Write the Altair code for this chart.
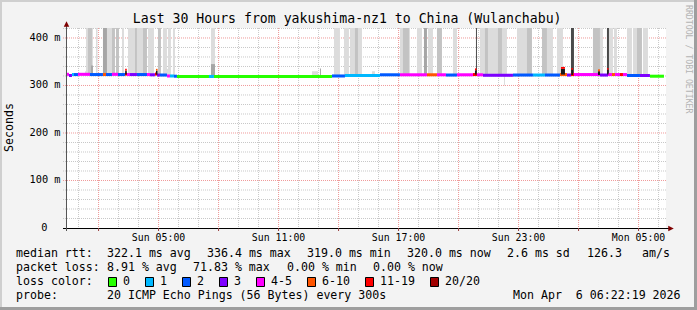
import altair as alt
import pandas as pd

# ---------------- data ----------------
# time axis: hours since Sun 00:00 (window = Sun 00:22:19 .. Mon 06:22:19)
START_H = 22 / 60 + 19 / 3600
END_H = START_H + 30.0
Y_MAX = 421.0  # ms ("m" = milli-seconds)

# median rtt segments (edges in hours, value in ms, loss class index)
med_edges = [0.37, 0.52, 0.67, 0.77, 0.97, 1.57, 2.22, 2.37, 2.67, 2.97,
             3.32, 3.42, 3.57, 3.92, 4.42, 4.57, 4.82, 4.92, 5.07, 5.42,
             5.57, 5.77, 5.92, 7.52, 7.77, 13.67, 14.32, 16.07, 17.07, 18.42,
             18.92, 19.37, 19.92, 20.72, 20.92, 21.22, 22.72, 23.72, 24.32, 25.07,
             25.42, 25.62, 25.77, 27.07, 27.47, 27.67, 27.82, 28.07, 28.22, 28.42,
             29.07, 29.57, 30.27]
med_ms = [323.5, 321, 323, 323, 323.5, 323, 323, 323, 323.5, 323,
          324, 323, 323, 323, 323, 322.5, 324, 322, 322, 320,
          320, 319.5, 319, 319, 319, 320, 321, 322.5, 322.5, 322.5,
          322.5, 322, 322.5, 323, 322.5, 321.5, 322, 322, 322, 323,
          322, 323, 323, 322, 323, 323, 323, 323, 323, 321,
          321, 319.5]
med_loss = [4, 3, 1, 2, 4, 2, 5, 2, 4, 2,
            6, 4, 3, 2, 4, 3, 6, 3, 2, 4,
            1, 2, 0, 1, 0, 2, 1, 2, 4, 5,
            4, 2, 4, 6, 4, 3, 2, 1, 2, 5,
            3, 6, 4, 3, 4, 5, 4, 6, 4, 2,
            3, 0]

# smoke (ping spread) bars: start/end hours, upper ms, shade level
SMOKE_BASE_MS = 321
smoke_h0 = [1.37, 1.47, 1.87, 2.22, 2.42, 2.67, 2.87, 3.17, 3.47, 3.82,
            3.92, 4.22, 4.47, 4.97, 5.22, 5.47, 5.72, 7.62, 13.77, 14.27,
            14.57, 14.82, 17.07, 17.22, 17.92, 18.27, 18.47, 18.92, 19.72, 20.87,
            21.07, 21.32, 21.97, 22.92, 23.42, 24.17, 24.42, 24.92, 25.62, 26.72,
            27.07, 27.42, 27.52, 27.77, 28.42, 28.72, 28.92, 29.22,
            1.32, 1.62, 5.32, 7.62, 12.67, 13.07, 15.67, 22.27]
smoke_h1 = [1.72, 1.67, 1.95, 2.42, 2.67, 2.82, 3.02, 3.27, 3.82, 3.92,
            4.22, 4.42, 4.77, 5.12, 5.42, 5.62, 5.82, 7.82, 14.07, 14.52,
            15.17, 14.97, 17.57, 17.52, 18.17, 18.42, 18.72, 19.17, 19.92, 20.92,
            22.42, 21.47, 22.17, 23.57, 23.67, 24.42, 24.72, 25.22, 25.77, 27.07,
            27.22, 27.52, 27.72, 27.92, 28.67, 28.92, 29.17, 29.47,
            1.42, 1.72, 5.57, 7.82, 12.97, 13.12, 15.82, 22.32]
smoke_hi = [421, 421, 421, 421, 421, 421, 421, 421, 421, 421,
            421, 421, 421, 421, 421, 421, 421, 421, 421, 421,
            421, 421, 421, 421, 421, 421, 421, 421, 421, 421,
            421, 421, 421, 421, 421, 421, 421, 421, 421, 421,
            421, 421, 421, 421, 421, 421, 421, 421,
            330, 342, 335, 345, 330, 336, 330, 300]
smoke_shade = [1, 2, 1, 3, 1, 2, 2, 1, 1, 2,
               1, 2, 1, 2, 1, 1, 1, 1, 1, 1,
               1, 2, 1, 2, 1, 3, 1, 2, 1, 4,
               1, 2, 2, 1, 2, 2, 1, 1, 4, 2,
               1, 4, 1, 1, 1, 1, 2, 1,
               1, 3, 1, 3, 1, 3, 1, 1]

# high-loss spikes
spike_h0 = [3.33, 4.87, 20.82, 25.12, 25.64, 26.97, 27.43]
spike_h1 = [3.41, 4.95, 20.90, 25.32, 25.72, 27.07, 27.50]
spike_lo = [323, 323, 323, 323, 322, 322, 323]
spike_top = [335, 335, 336, 339, 337, 334, 337]
spike_loss = [6, 5, 6, 6, 6, 5, 6]

# axes
x_tick_h = [5, 11, 17, 23, 29]
x_tick_label = ["Sun 05:00", "Sun 11:00", "Sun 17:00", "Sun 23:00", "Mon 05:00"]
y_tick_ms = [0, 100, 200, 300, 400]
y_tick_label = ["0", "100 m", "200 m", "300 m", "400 m"]
grid_minor_h = [h for h in range(1, 31)]
grid_major_h = [2, 5, 8, 11, 14, 17, 20, 23, 26, 29]
grid_minor_ms = [v for v in range(20, 421, 20) if v % 100]
grid_major_ms = [100, 200, 300, 400]

# legend
loss_labels = ["0", "1", "2", "3", "4-5", "6-10", "11-19", "20/20"]
loss_colors = ["#26ff00", "#00b8ff", "#0059ff", "#7e00ff", "#ff00ff", "#ff5500", "#ff0000", "#a10000"]
stat_rtt = ["median rtt:", "322.1 ms avg", "336.4 ms max", "319.0 ms min",
            "320.0 ms now", "2.6 ms sd", "126.3", "am/s"]
stat_loss = ["packet loss:", "8.91 % avg", "71.83 % max", "0.00 % min", "0.00 % now"]
probe_txt = ["probe:", "20 ICMP Echo Pings (56 Bytes) every 300s", "Mon Apr\u00a0 6 06:22:19 2026"]
title_txt = "Last 30 Hours from yakushima-nz1 to China (Wulanchabu)"

# ---------------- layout (pixels, absolute in the 697x310 picture) ----------------
W, H = 600, 200
PAD_L, PAD_T = 66, 28
MONO = "DejaVu Sans Mono"
LEG_FS = 11.6
row_y = [254.2, 268.0, 282.0, 296.3]
stat_rtt_x = [16, 107, 207, 307, 407, 507, 587, 642]
stat_loss_x = [16, 107, 193, 287, 373]
probe_x = [16, 107, 513]
box_x = [108, 145, 182, 219, 256, 307, 365, 430]

shade_colors = ["#dcdcdc", "#c3c3c3", "#a6a6a6", "#4a4a4a"]

xs = alt.Scale(domain=[START_H, END_H], nice=False, zero=False)
ys = alt.Scale(domain=[0, Y_MAX], nice=False, zero=False)
one = pd.DataFrame({"k": [0]})


def xq(f):
    return alt.X(f, type="quantitative", scale=xs, axis=None, title=None)


def yq(f):
    return alt.Y(f, type="quantitative", scale=ys, axis=None, title=None)


def prect(x0, y0, x1, y1, color):
    return alt.Chart(one).mark_rect(color=color, strokeWidth=0).encode(
        x=alt.value(x0 - PAD_L), x2=alt.value(x1 - PAD_L),
        y=alt.value(y0 - PAD_T), y2=alt.value(y1 - PAD_T))


def ptext(s, x, y, size=LEG_FS, align="left", angle=0, color="#000000"):
    return alt.Chart(one).mark_text(
        text=s, align=align, baseline="middle", fontSize=size, font=MONO,
        color=color, angle=angle).encode(x=alt.value(x - PAD_L), y=alt.value(y - PAD_T))


layers = []

# frame of the picture
layers += [prect(0, 0, 697, 2, "#cfcfcf"), prect(0, 0, 2, 310, "#cfcfcf"),
           prect(694, 0, 697, 310, "#9e9e9e"), prect(0, 307, 697, 310, "#9e9e9e")]

# grid
def vgrid(vals, color):
    return alt.Chart(pd.DataFrame({"h": vals})).mark_rule(
        color=color, strokeDash=[1, 1], strokeWidth=1).encode(
        x=xq("h"), y=alt.value(0), y2=alt.value(H))


def hgrid(vals, color):
    return alt.Chart(pd.DataFrame({"v": vals})).mark_rule(
        color=color, strokeDash=[1, 1], strokeWidth=1).encode(
        y=yq("v"), x=alt.value(-3), x2=alt.value(W))


layers += [vgrid(grid_minor_h, "#c8c8c8"), hgrid(grid_minor_ms, "#c8c8c8"),
           vgrid(grid_major_h, "#f09a9a"), hgrid(grid_major_ms, "#f09a9a")]

# smoke
smoke_df = pd.DataFrame({"h0": smoke_h0, "h1": smoke_h1, "hi": smoke_hi,
                         "shade": smoke_shade})
smoke_df["lo"] = SMOKE_BASE_MS
smoke_df = smoke_df.sort_values("shade", kind="stable")
layers.append(alt.Chart(smoke_df).mark_rect(strokeWidth=0).encode(
    x=xq("h0"), x2="h1", y=yq("lo"), y2="hi",
    color=alt.Color("shade:O", scale=alt.Scale(domain=[1, 2, 3, 4], range=shade_colors), legend=None)))

# median line coloured by loss
med_df = pd.DataFrame({"h0": med_edges[:-1], "h1": med_edges[1:], "ms": med_ms,
                       "loss": [loss_labels[i] for i in med_loss]})
loss_scale = alt.Scale(domain=loss_labels, range=loss_colors)
layers.append(alt.Chart(med_df).mark_rect(strokeWidth=0).transform_calculate(
    lo="datum.ms - 3.2", hi="datum.ms + 3.2").encode(
    x=xq("h0"), x2="h1", y=yq("lo"), y2="hi",
    color=alt.Color("loss:N", scale=loss_scale, legend=None)))

# spikes
sp_df = pd.DataFrame({"h0": spike_h0, "h1": spike_h1, "lo": spike_lo, "top": spike_top,
                      "loss": [loss_labels[i] for i in spike_loss]})
layers.append(alt.Chart(sp_df).mark_rect(color="#1a1a1a", strokeWidth=0).transform_calculate(
    cap="datum.top - 4").encode(x=xq("h0"), x2="h1", y=yq("lo"), y2="cap"))
layers.append(alt.Chart(sp_df).mark_rect(strokeWidth=0).transform_calculate(
    cap="datum.top - 4").encode(x=xq("h0"), x2="h1", y=yq("cap"), y2="top",
                                color=alt.Color("loss:N", scale=loss_scale, legend=None)))

# axes lines, ticks, arrows
layers.append(alt.Chart(one).mark_rule(color="#000000", strokeWidth=1).encode(
    x=alt.value(-3), x2=alt.value(W + 3), y=alt.value(H + 0.5)))
layers.append(alt.Chart(one).mark_rule(color="#555555", strokeWidth=1).encode(
    x=alt.value(0.5), y=alt.value(H + 3), y2=alt.value(-5)))
layers.append(alt.Chart(pd.DataFrame({"h": grid_major_h})).mark_rule(color="#9a4040").encode(
    x=xq("h"), y=alt.value(H), y2=alt.value(H + 3)))
arrow_up = "M-1,1L0,-1L1,1Z"
arrow_right = "M-1,-1L1,0L-1,1Z"
layers.append(alt.Chart(one).mark_point(shape=arrow_up, size=30, filled=True, color="#7f0000",
                                        opacity=1).encode(x=alt.value(0.5), y=alt.value(-4)))
layers.append(alt.Chart(one).mark_point(shape=arrow_right, size=30, filled=True, color="#7f0000",
                                        opacity=1).encode(x=alt.value(W + 5), y=alt.value(H + 0.5)))

# axis labels
layers.append(alt.Chart(pd.DataFrame({"h": x_tick_h, "t": x_tick_label})).mark_text(
    font=MONO, fontSize=9.9, baseline="middle", align="center", color="#000000").encode(
    x=xq("h"), y=alt.value(237.7 - PAD_T), text="t:N"))
ylab = pd.DataFrame({"v": y_tick_ms, "t": y_tick_label})
layers.append(alt.Chart(ylab).transform_filter("datum.v > 0").mark_text(
    font=MONO, fontSize=10.3, baseline="middle", align="right", color="#000000").encode(
    y=yq("v"), x=alt.value(60.5 - PAD_L), text="t:N"))
layers.append(alt.Chart(ylab).transform_filter("datum.v == 0").mark_text(
    font=MONO, fontSize=10.3, baseline="middle", align="right", color="#000000").encode(
    y=yq("v"), x=alt.value(47.5 - PAD_L), text="t:N"))
layers.append(ptext("Seconds", 10, 127.5, size=11.6, align="center", angle=270))

# title & watermark
layers.append(ptext(title_txt, 347.2, 18.7, size=13.2, align="center"))
layers.append(ptext("RRDTOOL / TOBI OETIKER", 688.3, 5, size=8.2, align="left", angle=90,
                    color="#b4b4b4"))

# legend rows
for s, x in zip(stat_rtt, stat_rtt_x):
    layers.append(ptext(s, x, row_y[0]))
for s, x in zip(stat_loss, stat_loss_x):
    layers.append(ptext(s, x, row_y[1]))
layers.append(ptext("loss color:", 16, row_y[2]))
for lab, col, bx in zip(loss_labels, loss_colors, box_x):
    layers.append(alt.Chart(one).mark_rect(color=col, stroke="#000000", strokeWidth=1).encode(
        x=alt.value(bx + 0.5 - PAD_L), x2=alt.value(bx + 8.5 - PAD_L),
        y=alt.value(row_y[2] - 4.5 - PAD_T), y2=alt.value(row_y[2] + 4.5 - PAD_T)))
    layers.append(ptext(lab, bx + 15, row_y[2]))
for s, x in zip(probe_txt, probe_x):
    layers.append(ptext(s, x, row_y[3]))

chart = alt.layer(*layers).resolve_scale(color="independent").properties(
    width=W, height=H,
    autosize=alt.AutoSizeParams(type="none"),
    padding={"left": PAD_L, "top": PAD_T, "right": 697 - PAD_L - W, "bottom": 310 - PAD_T - H},
    background="#f3f3f3",
).configure_view(fill="#ffffff", stroke=None)

chart.save("out.html", embed_options={"renderer": "svg", "actions": False})
